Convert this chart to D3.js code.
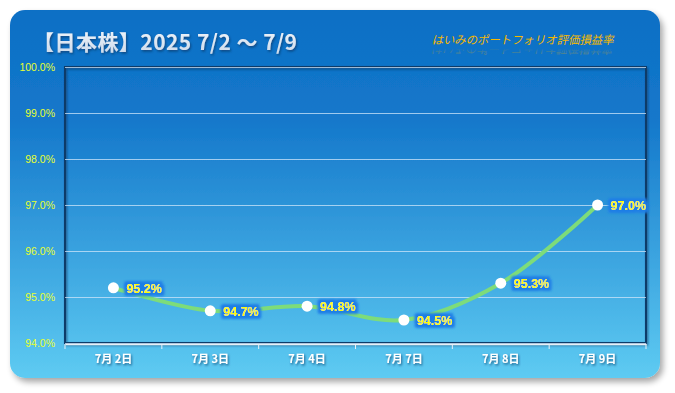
<!DOCTYPE html>
<html><head><meta charset="utf-8">
<script src="https://cdn.jsdelivr.net/npm/d3@7"></script>
<style>body{margin:0;background:#fff}svg{display:block}</style>
</head><body>
<svg id="c" width="675" height="393"></svg>
<script>
const categories = ["7月2日","7月3日","7月4日","7月7日","7月8日","7月9日"];
const values = [95.2, 94.7, 94.8, 94.5, 95.3, 97.0];
const yTicks = [94, 95, 96, 97, 98, 99, 100];
const title = "【日本株】2025 7/2 〜 7/9";
const subtitle = "はいみのポートフォリオ評価損益率";

const svg = d3.select("#c");
const defs = svg.append("defs");
const bg = defs.append("linearGradient").attr("id","bg").attr("x1",0).attr("y1",0).attr("x2",0).attr("y2",1);
bg.append("stop").attr("offset","0%").attr("stop-color","#0d6fc5");
bg.append("stop").attr("offset","30%").attr("stop-color","#1478cb");
bg.append("stop").attr("offset","100%").attr("stop-color","#5ecbf2");
const tg = defs.append("linearGradient").attr("id","tg").attr("x1",0).attr("y1",0).attr("x2",0).attr("y2",1);
tg.append("stop").attr("offset","0%").attr("stop-color","#f4f8fc");
tg.append("stop").attr("offset","100%").attr("stop-color","#c9d8ea");
const rg = defs.append("linearGradient").attr("id","rg").attr("x1",0).attr("y1",0).attr("x2",0).attr("y2",1);
rg.append("stop").attr("offset","0%").attr("stop-color","#f0b000").attr("stop-opacity",0.55);
rg.append("stop").attr("offset","60%").attr("stop-color","#f0b000").attr("stop-opacity",0);
const sh = defs.append("filter").attr("id","sh").attr("x","-10%").attr("y","-10%").attr("width","130%").attr("height","130%");
sh.append("feGaussianBlur").attr("in","SourceAlpha").attr("stdDeviation",3);
sh.append("feOffset").attr("dx",3).attr("dy",4).attr("result","o");
sh.append("feComponentTransfer").append("feFuncA").attr("type","linear").attr("slope",0.35);
const m = sh.append("feMerge"); m.append("feMergeNode"); m.append("feMergeNode").attr("in","SourceGraphic");
const ts = defs.append("filter").attr("id","ts").attr("x","-10%").attr("y","-20%").attr("width","130%").attr("height","160%");
ts.append("feDropShadow").attr("dx",1).attr("dy",1.5).attr("stdDeviation",1).attr("flood-color","#0a3060").attr("flood-opacity",0.7);
const glow = defs.append("filter").attr("id","glow").attr("x","-20%").attr("y","-40%").attr("width","140%").attr("height","180%");
glow.append("feMorphology").attr("in","SourceAlpha").attr("operator","dilate").attr("radius",2.5).attr("result","d");
glow.append("feGaussianBlur").attr("in","d").attr("stdDeviation",1).attr("result","b");
glow.append("feFlood").attr("flood-color","#1f7ee6");
glow.append("feComposite").attr("in2","b").attr("operator","in").attr("result","g");
const gm = glow.append("feMerge"); gm.append("feMergeNode").attr("in","g"); gm.append("feMergeNode").attr("in","SourceGraphic");

svg.append("rect").attr("x",10).attr("y",10).attr("width",650).attr("height",368).attr("rx",15)
  .attr("fill","url(#bg)").attr("filter","url(#sh)");

svg.append("text").attr("x",33).attr("y",50).attr("font-family","'Noto Sans CJK JP', sans-serif")
  .attr("font-weight","bold").attr("font-size",21).attr("textLength",264).attr("fill","url(#tg)").attr("filter","url(#ts)").text(title);

svg.append("text").attr("x",432).attr("y",44).attr("font-family","'Noto Sans CJK JP', sans-serif")
  .attr("font-size",11.5).attr("fill","#f6b800").attr("transform","translate(-8,0) skewX(-12) translate(8,0)")
  .attr("textLength",182).attr("transform","translate(9,0) skewX(-12)")
  .text(subtitle);
svg.append("text").attr("x",432).attr("y",44).attr("font-family","'Noto Sans CJK JP', sans-serif")
  .attr("font-size",11.5).attr("fill","url(#rg)").attr("textLength",182)
  .attr("transform","translate(0,89) scale(1,-1) translate(-9,0) skewX(12)").text(subtitle);

const L=65, R=646, T=67, B=343;
const x = d3.scaleBand().domain(categories).range([L,R]);
const y = d3.scaleLinear().domain([94,100]).range([B,T]);

const plot = svg.append("g");
plot.append("rect").attr("x",L).attr("y",T).attr("width",R-L).attr("height",B-T)
  .attr("fill","none").attr("stroke","#0a3a68").attr("stroke-width",2).attr("filter","url(#ts)");

const yAxis = d3.axisLeft(y).tickValues(yTicks).tickSize(-(R-L)).tickFormat(d=>d.toFixed(1)+"%");
const ga = svg.append("g").attr("transform",`translate(${L},0)`).call(yAxis);
ga.select(".domain").remove();
ga.selectAll(".tick line").attr("stroke","#cfe6fa").attr("stroke-opacity",0.75).attr("stroke-width",1);
ga.selectAll(".tick text").attr("x",-10).attr("fill","#e8ff30").attr("font-family","Arial, 'Liberation Sans', sans-serif").attr("font-size",10.5);

const xAxis = d3.axisBottom(x).tickSize(0).tickFormat(d=>d.replace("月","月 "));
const gx = svg.append("g").attr("transform",`translate(0,${B+1})`).call(xAxis);
gx.select(".domain").attr("stroke","#e8f0f8").attr("stroke-width",1.5);
gx.selectAll(".tick text").attr("y",11).attr("fill","#ffffff").attr("font-weight","bold")
  .attr("font-family","'Noto Sans CJK JP', sans-serif").attr("font-size",11).attr("filter","url(#ts)");
const edges = categories.map(c=>x(c)).concat([R]);
gx.selectAll(".edge").data(edges).enter().append("line").attr("class","edge")
  .attr("x1",d=>d).attr("x2",d=>d).attr("y1",0).attr("y2",5).attr("stroke","#e8f0f8").attr("stroke-width",1);

const line = d3.line().x((d,i)=>x(categories[i])+x.bandwidth()/2).y(d=>y(d)).curve(d3.curveCatmullRom.alpha(0.5));
svg.append("path").datum(values).attr("d",line).attr("fill","none").attr("stroke","#7ddc7a").attr("stroke-width",4).attr("stroke-linecap","round");

svg.selectAll(".pt").data(values).enter().append("circle").attr("class","pt")
  .attr("cx",(d,i)=>x(categories[i])+x.bandwidth()/2).attr("cy",d=>y(d)).attr("r",5.5).attr("fill","#ffffff");

svg.selectAll(".lbl").data(values).enter().append("text").attr("class","lbl")
  .attr("x",(d,i)=>x(categories[i])+x.bandwidth()/2+13).attr("y",d=>y(d)+5)
  .attr("fill","#ffff00").attr("font-weight","bold").attr("font-family","Arial, 'Liberation Sans', sans-serif")
  .attr("font-size",12.5).attr("filter","url(#glow)").text(d=>d.toFixed(1)+"%");
</script>
</body></html>
